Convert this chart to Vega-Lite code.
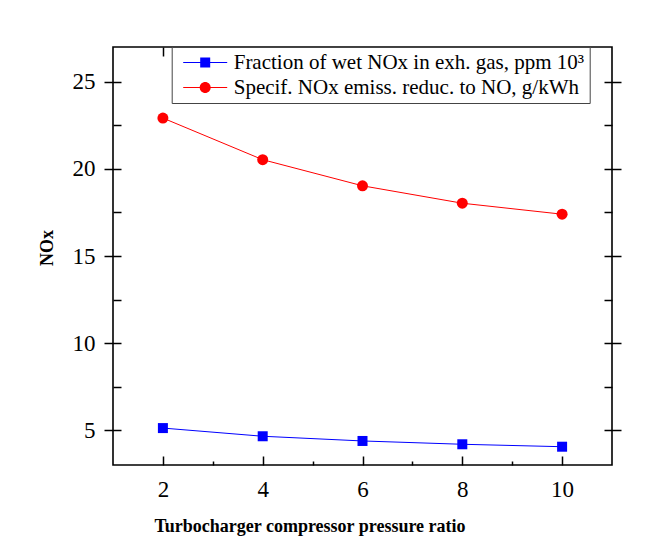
{
  "$schema": "https://vega.github.io/schema/vega-lite/v6.json",
  "width": 499,
  "height": 418,
  "autosize": {"type": "none"},
  "padding": {"left": 113, "top": 47, "right": 34, "bottom": 83},
  "background": "white",
  "config": {
    "view": {"stroke": "black", "strokeWidth": 1.6},
    "font": "Liberation Serif",
    "axis": {"grid": false, "domain": false, "tickColor": "black", "tickWidth": 1.5, "labelFont": "Liberation Serif", "labelFontSize": 23, "labelColor": "black", "labelOverlap": false, "labelFlush": false, "titleFont": "Liberation Serif", "titleFontSize": 18, "titleFontWeight": "bold", "titleColor": "black"}
  },
  "data": {
    "values": [
      {"ratio": 2, "nox": 5.12, "series": "Fraction of wet NOx in exh. gas, ppm 10³"},
      {"ratio": 4, "nox": 4.65, "series": "Fraction of wet NOx in exh. gas, ppm 10³"},
      {"ratio": 6, "nox": 4.38, "series": "Fraction of wet NOx in exh. gas, ppm 10³"},
      {"ratio": 8, "nox": 4.19, "series": "Fraction of wet NOx in exh. gas, ppm 10³"},
      {"ratio": 10, "nox": 4.05, "series": "Fraction of wet NOx in exh. gas, ppm 10³"},
      {"ratio": 2, "nox": 22.92, "series": "Specif. NOx emiss. reduc. to NO, g/kWh"},
      {"ratio": 4, "nox": 20.53, "series": "Specif. NOx emiss. reduc. to NO, g/kWh"},
      {"ratio": 6, "nox": 19.03, "series": "Specif. NOx emiss. reduc. to NO, g/kWh"},
      {"ratio": 8, "nox": 18.03, "series": "Specif. NOx emiss. reduc. to NO, g/kWh"},
      {"ratio": 10, "nox": 17.4, "series": "Specif. NOx emiss. reduc. to NO, g/kWh"}
    ]
  },
  "layer": [
    {
      "transform": [{"filter": "datum.series === 'Fraction of wet NOx in exh. gas, ppm 10³'"}],
      "mark": {"type": "line", "strokeWidth": 1, "color": "#0000ff"},
      "encoding": {
        "x": {"field": "ratio", "type": "quantitative", "scale": {"domain": [1, 11], "nice": false, "zero": false},
          "axis": {"orient": "bottom", "values": [2, 3, 4, 5, 6, 7, 8, 9, 10], "labelExpr": "datum.value % 2 === 0 ? datum.label : ''",
            "tickSize": {"condition": {"test": "datum.value % 2 === 0", "value": -9}, "value": -4},
            "labelPadding": 22, "title": "Turbocharger compressor pressure ratio", "titleX": 196.5, "titleY": 66, "titleBaseline": "alphabetic", "titleAlign": "center", "titleAnchor": null}},
        "y": {"field": "nox", "type": "quantitative", "scale": {"domain": [3, 27], "nice": false, "zero": false},
          "axis": {"orient": "left", "offset": -8, "values": [5, 7.5, 10, 12.5, 15, 17.5, 20, 22.5, 25], "labelExpr": "datum.value % 5 === 0 ? datum.label : ''",
            "tickSize": {"condition": {"test": "datum.value % 5 === 0", "value": 17}, "value": 8},
            "labelPadding": 9, "title": "NOx", "titleX": -74, "titleY": 200.5, "titleAngle": -90, "titleAlign": "center", "titleBaseline": "middle", "titleAnchor": null}}
      }
    },
    {
      "transform": [{"filter": "datum.series === 'Specif. NOx emiss. reduc. to NO, g/kWh'"}],
      "mark": {"type": "line", "strokeWidth": 1, "color": "#ff0000"},
      "encoding": {
        "x": {"field": "ratio", "type": "quantitative", "axis": null},
        "y": {"field": "nox", "type": "quantitative", "axis": null}
      }
    },
    {
      "transform": [{"filter": "datum.series === 'Fraction of wet NOx in exh. gas, ppm 10³'"}],
      "mark": {"type": "point", "shape": "square", "filled": true, "opacity": 1, "size": 100, "color": "#0000ff"},
      "encoding": {
        "x": {"field": "ratio", "type": "quantitative",
          "axis": {"orient": "top", "values": [2, 3, 4, 5, 6, 7, 8, 9, 10], "labels": false,
            "tickSize": {"condition": {"test": "datum.value % 2 === 0", "value": -9}, "value": -4}, "title": null}},
        "y": {"field": "nox", "type": "quantitative",
          "axis": {"orient": "right", "offset": -8, "values": [5, 7.5, 10, 12.5, 15, 17.5, 20, 22.5, 25], "labels": false,
            "tickSize": {"condition": {"test": "datum.value % 5 === 0", "value": 17}, "value": 8}, "title": null}}
      }
    },
    {
      "transform": [{"filter": "datum.series === 'Specif. NOx emiss. reduc. to NO, g/kWh'"}],
      "mark": {"type": "point", "shape": "circle", "filled": true, "opacity": 1, "size": 121, "color": "#ff0000"},
      "encoding": {
        "x": {"field": "ratio", "type": "quantitative", "axis": null},
        "y": {"field": "nox", "type": "quantitative", "axis": null}
      }
    },
    {
      "transform": [{"filter": "false"}],
      "mark": {"type": "point", "filled": true, "opacity": 1, "strokeWidth": 0},
      "encoding": {
        "x": {"field": "ratio", "type": "quantitative", "axis": null},
        "y": {"field": "nox", "type": "quantitative", "axis": null},
        "color": {"field": "series", "type": "nominal",
          "scale": {"domain": ["Fraction of wet NOx in exh. gas, ppm 10³", "Specif. NOx emiss. reduc. to NO, g/kWh"], "range": ["#0000ff", "#ff0000"]},
          "legend": {"orient": "none", "legendX": 58.7, "legendY": 0, "title": null, "padding": 5, "strokeColor": "#444", "fillColor": "white",
            "labelFont": "Liberation Serif", "labelFontSize": 21, "labelColor": "black", "labelLimit": 600, "rowPadding": 3, "symbolSize": 144, "symbolOffset": 18, "labelOffset": 18, "symbolStrokeWidth": 0}},
        "shape": {"field": "series", "type": "nominal", "scale": {"domain": ["Fraction of wet NOx in exh. gas, ppm 10³", "Specif. NOx emiss. reduc. to NO, g/kWh"],
          "range": ["M-3.667,-0.083H3.667V0.083H-3.667Z M-0.833,-0.833H0.833V0.833H-0.833Z", "M-3.667,-0.083H3.667V0.083H-3.667Z M-0.917,0A0.917,0.917 0 1,1 0.917,0A0.917,0.917 0 1,1 -0.917,0Z"]}}
      }
    }
  ],
  "resolve": {"axis": {"x": "independent", "y": "independent"}}
}
